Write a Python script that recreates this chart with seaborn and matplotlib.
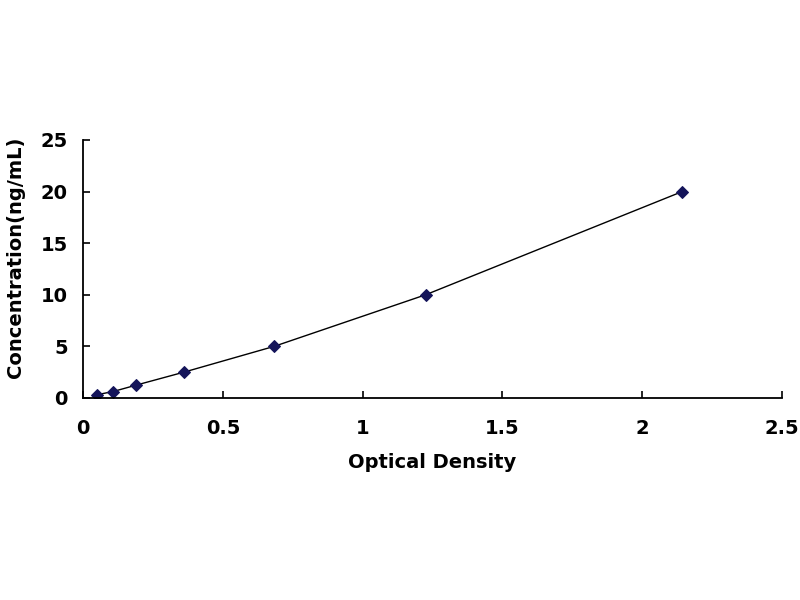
import matplotlib
matplotlib.use("Agg")
import matplotlib.pyplot as plt
import seaborn as sns
import pandas as pd

optical_density = [0.049, 0.107, 0.19, 0.36, 0.683, 1.225, 2.143]
concentration = [0.3125, 0.625, 1.25, 2.5, 5, 10, 20]
x_ticks = [0, 0.5, 1, 1.5, 2, 2.5]
x_tick_labels = ["0", "0.5", "1", "1.5", "2", "2.5"]
y_ticks = [0, 5, 10, 15, 20, 25]

sns.set_theme(style="white")
plt.rcParams['font.family'] = ['DejaVu Sans']
plt.rcParams['font.weight'] = 'bold'
plt.rcParams['text.color'] = 'black'
plt.rcParams['axes.labelcolor'] = 'black'

df = pd.DataFrame({"od": optical_density, "conc": concentration})

fig = plt.figure(figsize=(8, 6), dpi=100)
ax = fig.add_axes([0.104, 0.3367, 0.8735, 0.43])

sns.lineplot(data=df, x="od", y="conc", ax=ax, color="black", linewidth=1.0,
             marker="D", markersize=6.3, markerfacecolor="#14145a",
             markeredgecolor="#14145a", sort=True)

ax.set_xlim(0, 2.5)
ax.set_ylim(0, 25)
ax.set_xticks(x_ticks)
ax.set_xticklabels(x_tick_labels)
ax.set_yticks(y_ticks)
ax.tick_params(axis="both", direction="in", length=5, width=1.2, color="black",
               labelsize=14, labelcolor="black", left=True, bottom=True)
ax.tick_params(axis="x", pad=15)
ax.tick_params(axis="y", pad=11)
for lbl in ax.get_xticklabels() + ax.get_yticklabels():
    lbl.set_fontweight("bold")
ax.set_xlabel("Optical Density", fontsize=14, fontweight="bold", labelpad=11, color="black")
ax.set_ylabel("Concentration(ng/mL)", fontsize=14, fontweight="bold", color="black")
ax.yaxis.set_label_coords(-0.083, 0.545)
sns.despine(ax=ax)
for s in ["left", "bottom"]:
    ax.spines[s].set_color("black")
    ax.spines[s].set_linewidth(1.3)

fig.savefig("out.png", dpi=100, facecolor="white")
